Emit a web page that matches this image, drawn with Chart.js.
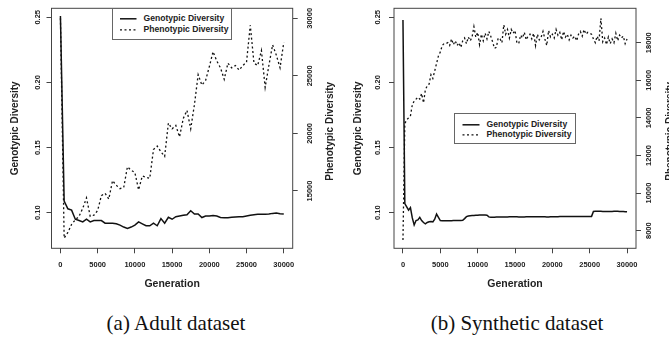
<!DOCTYPE html>
<html>
<head>
<meta charset="utf-8">
<script src="https://cdn.jsdelivr.net/npm/chart.js@4.4.1/dist/chart.umd.min.js"></script>
<style>
  html, body { margin: 0; padding: 0; background: #fff; width: 669px; height: 339px; overflow: hidden; position: relative; }
  .panel { position: absolute; top: 0; }
  .legend { position: absolute; border: 1px solid #666; background: #fff; box-sizing: border-box; }
  .legend svg { position: absolute; left: 0; top: 0; }
  .legend span { position: absolute; font: bold 8.6px "Liberation Sans", Arial, sans-serif; color: #222; white-space: nowrap; line-height: 12px; }
  .caption { position: absolute; top: 311px; height: 26px; line-height: 26px; font: 21px "Liberation Serif", "DejaVu Serif", serif; color: #111; text-align: center; white-space: nowrap; }
</style>
</head>
<body>
<div class="panel" style="left:0px"><canvas id="adultChart" width="337" height="300"></canvas></div>
<div class="panel" style="left:337px"><canvas id="synthChart" width="346" height="300"></canvas></div>

<div class="legend" style="left:111.5px; top:7.5px; width:120.5px; height:32px">
  <svg width="30" height="32">
    <line x1="7" y1="9.8" x2="23.5" y2="9.8" stroke="#111" stroke-width="1.5"/>
    <line x1="7" y1="20.8" x2="23.5" y2="20.8" stroke="#111" stroke-width="1.3" stroke-dasharray="2,2.5"/>
  </svg>
  <span style="left:31px; top:3.8px">Genotypic Diversity</span>
  <span style="left:31px; top:14.8px">Phenotypic Diversity</span>
</div>
<div class="legend" style="left:454px; top:112.5px; width:122px; height:31px">
  <svg width="30" height="31">
    <line x1="7.5" y1="10.8" x2="24.5" y2="10.8" stroke="#111" stroke-width="1.5"/>
    <line x1="7.5" y1="20.8" x2="24.5" y2="20.8" stroke="#111" stroke-width="1.3" stroke-dasharray="2,2.5"/>
  </svg>
  <span style="left:31.5px; top:4.8px">Genotypic Diversity</span>
  <span style="left:31.5px; top:14.8px">Phenotypic Diversity</span>
</div>

<div class="caption" style="left:76px; width:200px">(a) Adult dataset</div>
<div class="caption" style="left:417px; width:200px">(b) Synthetic dataset</div>

<script>
// generations sampled in each run
var adultGen = [0, 500, 1000, 1500, 2000, 2500, 3000, 3500, 4000, 4500,
  5000, 5500, 6000, 6500, 7000, 7500, 8000, 8500, 9000, 9500,
  10000, 10500, 11000, 11500, 12000, 12500, 13000, 13500, 14000, 14500,
  15000, 15500, 16000, 16500, 17000, 17500, 18000, 18500, 19000, 19500,
  20000, 20500, 21000, 21500, 22000, 22500, 23000, 23500, 24000, 24500,
  25000, 25500, 26000, 26500, 27000, 27500, 28000, 28500, 29000, 29500, 30000];

var adultGeno = [0.251, 0.109, 0.103, 0.102, 0.095, 0.094, 0.093, 0.095, 0.093, 0.094,
  0.094, 0.094, 0.092, 0.092, 0.092, 0.0915, 0.0905, 0.089, 0.088, 0.089,
  0.0905, 0.093, 0.0915, 0.090, 0.090, 0.092, 0.090, 0.0955, 0.092, 0.0965,
  0.095, 0.097, 0.0975, 0.098, 0.0985, 0.1015, 0.099, 0.099, 0.0963, 0.0975,
  0.0975, 0.0978, 0.0975, 0.0963, 0.0962, 0.0962, 0.0965, 0.0968, 0.097, 0.097,
  0.0975, 0.098, 0.0985, 0.0988, 0.0988, 0.0988, 0.099, 0.0995, 0.0998, 0.0992, 0.099];

var adultPheno = [30000, 10900, 11400, 12100, 12500, 12800, 13500, 14400, 12800, 12900,
  13300, 14600, 14800, 14300, 15900, 15500, 15200, 15300, 17100, 16800,
  16600, 15100, 16300, 16200, 16100, 18600, 18900, 18400, 18000, 20900,
  20400, 20700, 19700, 21300, 22000, 20400, 22500, 25100, 24200, 24600,
  25800, 27100, 26300, 25700, 24700, 26100, 25700, 25900, 25500, 25900,
  26200, 29400, 26100, 25900, 27200, 24000, 25900, 27700, 26800, 25700, 27900];

var synthGen = [0, 250, 500, 750, 1000, 1250, 1500, 1750, 2000, 2250,
  2500, 2750, 3000, 3250, 3500, 3750, 4000, 4250, 4500, 4750,
  5000, 5250, 5500, 5750, 6000, 6250, 6500, 6750, 7000, 7250,
  7500, 7750, 8000, 8250, 8500, 8750, 9000, 9250, 9500, 9750,
  10000, 10250, 10500, 10750, 11000, 11250, 11500, 11750, 12000, 12250,
  12500, 12750, 13000, 13250, 13500, 13750, 14000, 14250, 14500, 14750,
  15000, 15250, 15500, 15750, 16000, 16250, 16500, 16750, 17000, 17250,
  17500, 17750, 18000, 18250, 18500, 18750, 19000, 19250, 19500, 19750,
  20000, 20250, 20500, 20750, 21000, 21250, 21500, 21750, 22000, 22250,
  22500, 22750, 23000, 23250, 23500, 23750, 24000, 24250, 24500, 24750,
  25000, 25250, 25500, 25750, 26000, 26250, 26500, 26750, 27000, 27250,
  27500, 27750, 28000, 28250, 28500, 28750, 29000, 29250, 29500, 29750, 30000];

var synthGeno = [0.248, 0.107, 0.1045, 0.102, 0.104, 0.096, 0.0906, 0.094, 0.0945, 0.0965,
  0.094, 0.0925, 0.0915, 0.0925, 0.093, 0.0932, 0.093, 0.095, 0.099, 0.0965,
  0.094, 0.0938, 0.0938, 0.0938, 0.0939, 0.0939, 0.0939, 0.094, 0.094, 0.094,
  0.094, 0.0941, 0.0942, 0.0955, 0.097, 0.0975, 0.0977, 0.0978, 0.0978, 0.098,
  0.098, 0.0982, 0.0983, 0.0982, 0.0982, 0.0981, 0.0968, 0.0966, 0.0966, 0.0966,
  0.0967, 0.0967, 0.0967, 0.0968, 0.0968, 0.0968, 0.0968, 0.0969, 0.0969, 0.0969,
  0.0969, 0.0969, 0.0968, 0.0968, 0.0968, 0.0968, 0.0969, 0.0969, 0.0969, 0.0969,
  0.097, 0.097, 0.097, 0.0969, 0.0969, 0.0969, 0.0969, 0.0968, 0.0968, 0.0969,
  0.097, 0.097, 0.097, 0.097, 0.0971, 0.0971, 0.0971, 0.0971, 0.0971, 0.0971,
  0.0971, 0.0971, 0.0972, 0.0972, 0.0972, 0.0972, 0.0972, 0.0972, 0.0972, 0.0972,
  0.0972, 0.0972, 0.101, 0.1011, 0.1011, 0.1011, 0.1011, 0.101, 0.101, 0.101,
  0.101, 0.101, 0.101, 0.1011, 0.1011, 0.1011, 0.101, 0.101, 0.1009, 0.1008, 0.1008];

var synthPheno = [7500, 13700, 13900, 14000, 14100, 14700, 14900, 15000, 15100, 15000,
  15300, 14800, 15500, 15700, 15800, 16300, 16100, 16500, 16900, 17300,
  17500, 17850, 17950, 17950, 18000, 17850, 18200, 17900, 18100, 17850,
  18000, 17750, 18100, 18250, 17950, 18300, 18100, 18300, 18850, 18300,
  18550, 17900, 18450, 18100, 18500, 18200, 18600, 18350, 18050, 17700,
  17750, 18250, 18200, 18000, 18950, 18450, 18700, 18250, 18700, 18500,
  18650, 18000, 17950, 18400, 18250, 18550, 18150, 18350, 18450, 18200,
  18500, 17850, 18450, 18150, 18300, 18600, 18200, 17850, 18650, 18300,
  18450, 18250, 18700, 18400, 18550, 18150, 18600, 18300, 18450, 18150,
  18400, 18250, 18350, 18100, 18450, 18600, 18350, 18700, 18450, 18550,
  18500, 18450, 18200, 18000, 18350, 18100, 19300, 18050, 18250, 17900,
  18300, 17950, 18200, 18000, 18500, 18100, 18400, 18250, 18350, 17950, 18200];

// tick marks
var genTicks = [0, 5000, 10000, 15000, 20000, 25000, 30000];
var genoTicks = [0.10, 0.15, 0.20, 0.25];
var adultPhenoTicks = [15000, 20000, 25000, 30000];
var synthPhenoTicks = [8000, 10000, 12000, 14000, 16000, 18000];

var ink = '#222';
var sans = '"Liberation Sans", Arial, sans-serif';

function pts(xs, ys) {
    return xs.map(function (x, i) { return {x: x, y: ys[i]}; });
}

// box round the plot + rotated y tick labels + right axis title
var rAxes = {
    id: 'rAxes',
    afterDraw: function (chart, args, o) {
        var ctx = chart.ctx, a = chart.chartArea;
        ctx.save();
        ctx.strokeStyle = '#444';
        ctx.lineWidth = 1;
        ctx.strokeRect(a.left, a.top, a.right - a.left, a.bottom - a.top);

        ctx.fillStyle = ink;
        ctx.textAlign = 'center';
        ctx.textBaseline = 'middle';
        ctx.font = 'bold 7.5px ' + sans;
        ['y', 'y1'].forEach(function (id) {
            var s = chart.scales[id];
            var x = id === 'y' ? a.left - o.leftGap : a.right + o.rightGap;
            s.ticks.forEach(function (t) {
                ctx.save();
                ctx.translate(x, s.getPixelForValue(t.value));
                ctx.rotate(-Math.PI / 2);
                ctx.fillText(id === 'y' ? t.value.toFixed(2) : String(t.value), 0, 0);
                ctx.restore();
            });
        });

        ctx.font = 'bold 10px ' + sans;
        ctx.translate(a.right + o.titleGap, (a.top + a.bottom) / 2 + 3);
        ctx.rotate(-Math.PI / 2);
        ctx.fillText('Phenotypic Diversity', 0, 0);
        ctx.restore();
    }
};

function makeChart(el, gen, geno, pheno, phenoTicks, cfg) {
    var tickGrid = {display: true, drawOnChartArea: false, drawTicks: true, tickLength: 5, color: '#444', lineWidth: 1};
    return new Chart(document.getElementById(el).getContext('2d'), {
        type: 'line',
        data: {
            datasets: [{
                label: 'Genotypic Diversity',
                data: pts(gen, geno),
                yAxisID: 'y',
                borderColor: '#111',
                borderWidth: 1.5,
                pointRadius: 0,
                tension: 0
            }, {
                label: 'Phenotypic Diversity',
                data: pts(gen, pheno),
                yAxisID: 'y1',
                borderColor: '#111',
                borderWidth: 1.3,
                borderDash: [2, 2.5],
                pointRadius: 0,
                tension: 0
            }]
        },
        options: {
            responsive: false,
            animation: false,
            devicePixelRatio: 1,
            layout: {padding: {top: 8.3, left: 0, right: 0, bottom: 0}},
            plugins: {legend: {display: false}, tooltip: {enabled: false}, rAxes: cfg.text},
            scales: {
                x: {
                    type: 'linear',
                    min: -1200, max: 31200,
                    afterBuildTicks: function (s) { s.ticks = genTicks.map(function (v) { return {value: v}; }); },
                    afterFit: function (s) { s.height = 51.7; },
                    grid: tickGrid,
                    border: {display: false},
                    ticks: {autoSkip: false, maxRotation: 0, padding: 7, color: ink, font: {family: sans, size: 7.5, weight: 'bold'},
                        callback: function (v) { return String(v); }},
                    title: {display: true, text: 'Generation', color: ink, font: {family: sans, size: 10.5, weight: 'bold'},
                        padding: {top: 0, bottom: 9.4}}
                },
                y: {
                    position: 'left',
                    min: 0.0727, max: 0.2569,
                    afterBuildTicks: function (s) { s.ticks = genoTicks.map(function (v) { return {value: v}; }); },
                    afterFit: function (s) { s.width = cfg.leftW; },
                    grid: tickGrid,
                    border: {display: false},
                    ticks: {display: false},
                    title: {display: true, text: 'Genotypic Diversity', color: ink, font: {family: sans, size: 10, weight: 'bold'},
                        padding: {top: cfg.titlePad, bottom: 0}}
                },
                y1: {
                    position: 'right',
                    min: cfg.phenoMin, max: cfg.phenoMax,
                    afterBuildTicks: function (s) { s.ticks = phenoTicks.map(function (v) { return {value: v}; }); },
                    afterFit: function (s) { s.width = cfg.rightW; },
                    grid: tickGrid,
                    border: {display: false},
                    ticks: {display: false}
                }
            }
        },
        plugins: [rAxes]
    });
}

makeChart('adultChart', adultGen, adultGeno, adultPheno, adultPhenoTicks, {
    leftW: 51.5, rightW: 44.3, titlePad: 9, phenoMin: 10020, phenoMax: 30870,
    text: {leftGap: 13.2, rightGap: 17, titleGap: 37.3}
});
makeChart('synthChart', synthGen, synthGeno, synthPheno, synthPhenoTicks, {
    leftW: 57, rightW: 47, titlePad: 15.3, phenoMin: 7064, phenoMax: 19830,
    text: {leftGap: 15.7, rightGap: 13.3, titleGap: 34}
});
</script>
</body>
</html>
